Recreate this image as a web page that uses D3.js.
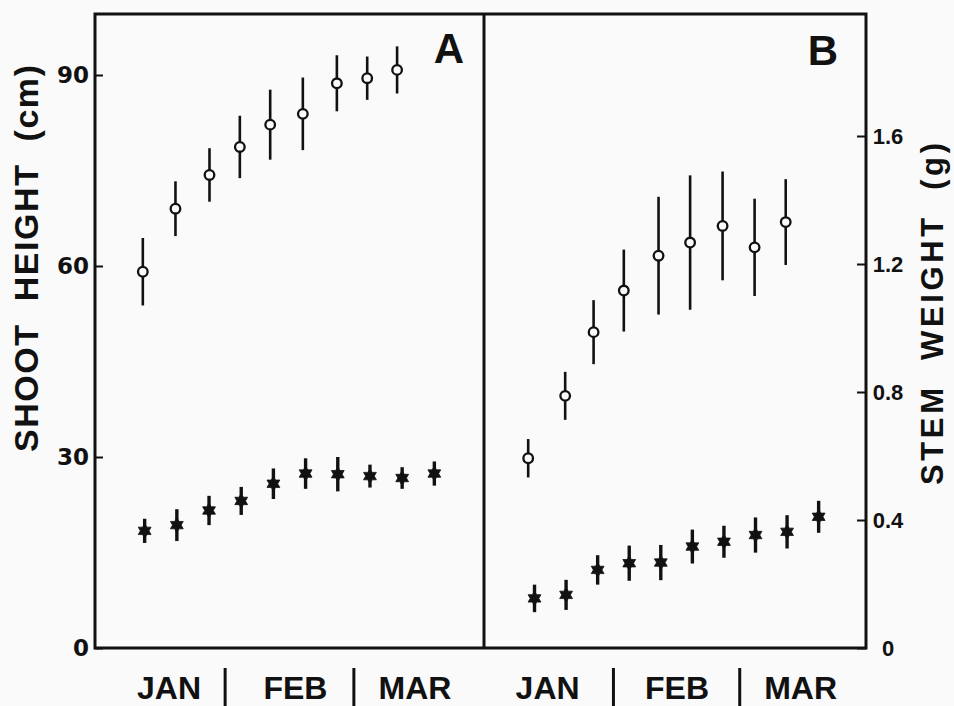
<!DOCTYPE html>
<html>
<head>
<meta charset="utf-8">
<script src="https://cdn.jsdelivr.net/npm/d3@7"></script>
<style>
  html, body { margin: 0; padding: 0; background: #fafafa; }
  svg { display: block; }
</style>
</head>
<body>
<svg id="chart" width="954" height="706"></svg>
<script>
// Sampling dates, as day of the year (1 = 1 January)
const starDays = [14, 21, 28, 35, 42, 49, 56, 63, 70, 77];
const openDaysA = [13.6, 20.7, 28.1, 34.7, 41.3, 48.4, 55.8, 62.4, 68.9];
const openDaysB = [12.6, 20.8, 27.1, 33.8, 41.5, 48.5, 55.7, 62.8, 69.7];

// Panel A: shoot height (cm), mean and error
const openHeight    = [59.1, 69.0, 74.3, 78.7, 82.2, 83.9, 88.7, 89.5, 90.8];
const openHeightErr = [5.3, 4.3, 4.2, 4.9, 5.5, 5.7, 4.4, 3.4, 3.7];
const starHeight    = [18.4, 19.3, 21.6, 23.1, 25.8, 27.4, 27.3, 27.0, 26.7, 27.4];
const starHeightErr = [1.9, 2.5, 2.3, 2.2, 2.4, 2.4, 2.7, 1.8, 1.7, 1.9];

// Panel B: stem weight (g), mean and error
const openWeight    = [0.593, 0.788, 0.987, 1.117, 1.226, 1.267, 1.319, 1.252, 1.331];
const openWeightErr = [0.060, 0.075, 0.100, 0.128, 0.184, 0.210, 0.170, 0.152, 0.134];
const starWeight    = [0.155, 0.166, 0.244, 0.265, 0.267, 0.317, 0.332, 0.353, 0.363, 0.410];
const starWeightErr = [0.043, 0.047, 0.046, 0.055, 0.055, 0.053, 0.050, 0.055, 0.052, 0.050];

// Month axis
const monthNames = ["JAN", "FEB", "MAR"];
const monthBreaks = [31.5, 59.5];
const monthLabelDaysA = [19.3, 46.8, 72.8];
const monthLabelDaysB = [16.9, 45.6, 73.0];

// Value axes
const heightTicks = [0, 30, 60, 90];
const weightTicks = [0, 0.4, 0.8, 1.2, 1.6];

const INK = "#111";
const PAPER = "#fafafa";
const SANS = "'Liberation Sans', Arial, sans-serif";
const frame = { left: 95, split: 484, right: 866, top: 14, bottom: 648 };

const svg = d3.select("#chart");

const xA = d3.scaleLinear().domain([3.2, 87.8]).range([frame.left, frame.split]);
const xB = d3.scaleLinear().domain([2.8, 87.5]).range([frame.split, frame.right]);
const yH = d3.scaleLinear().domain([0, 90]).range([frame.bottom, 75]);
const yW = d3.scaleLinear().domain([0, 1.6]).range([frame.bottom, 136]);

// Frame and panel divider
svg.append("rect")
  .attr("x", frame.left).attr("y", frame.top)
  .attr("width", frame.right - frame.left).attr("height", frame.bottom - frame.top)
  .attr("fill", "none").attr("stroke", INK).attr("stroke-width", 3);
svg.append("line")
  .attr("x1", frame.split).attr("x2", frame.split)
  .attr("y1", frame.top).attr("y2", frame.bottom)
  .attr("stroke", INK).attr("stroke-width", 3);

// Left axis: shoot height
const leftAxis = svg.append("g")
  .attr("transform", `translate(${frame.left},0)`)
  .call(d3.axisLeft(yH).tickValues(heightTicks).tickSizeInner(-8).tickSizeOuter(0).tickPadding(6));
leftAxis.select(".domain").remove();
leftAxis.selectAll(".tick line").attr("stroke", INK).attr("stroke-width", 2);
leftAxis.selectAll(".tick text")
  .attr("fill", INK)
  .style("font-family", "'DejaVu Sans', sans-serif")
  .style("font-weight", "bold")
  .style("font-size", "23px");

// Right axis: stem weight
const rightAxis = svg.append("g")
  .attr("transform", `translate(${frame.right},0)`)
  .call(d3.axisRight(yW).tickValues(weightTicks).tickSizeInner(-9).tickSizeOuter(0)
    .tickFormat(d => d === 0 ? "0" : d3.format(".1f")(d)));
rightAxis.select(".domain").remove();
rightAxis.selectAll(".tick line").attr("stroke", INK).attr("stroke-width", 2);
rightAxis.selectAll(".tick text")
  .attr("x", 22)
  .attr("text-anchor", "middle")
  .attr("fill", INK)
  .style("font-family", SANS)
  .style("font-weight", "bold")
  .style("font-size", "22px");

// Axis titles
svg.append("text")
  .attr("transform", "translate(38,258.5) rotate(-90)")
  .attr("text-anchor", "middle")
  .attr("textLength", 387).attr("lengthAdjust", "spacing")
  .style("white-space", "pre")
  .style("font-family", SANS)
  .style("font-weight", "bold").style("font-size", "34px")
  .attr("fill", INK)
  .text("SHOOT  HEIGHT  (cm)");

svg.append("text")
  .attr("transform", "translate(943,314) rotate(-90)")
  .attr("text-anchor", "middle")
  .attr("textLength", 342).attr("lengthAdjust", "spacing")
  .style("white-space", "pre")
  .style("font-family", SANS)
  .style("font-weight", "bold").style("font-size", "31px")
  .attr("fill", INK)
  .text("STEM  WEIGHT  (g)");

// Panel letters
svg.append("text").attr("x", 449).attr("y", 63).attr("text-anchor", "middle")
  .style("font-family", SANS)
  .style("font-weight", "bold").style("font-size", "42px").attr("fill", INK).text("A");
svg.append("text").attr("x", 823).attr("y", 65).attr("text-anchor", "middle")
  .style("font-family", SANS)
  .style("font-weight", "bold").style("font-size", "42px").attr("fill", INK).text("B");

// Month labels and month separators under each panel
function monthAxis(x, labelDays) {
  const g = svg.append("g");
  g.selectAll("line").data(monthBreaks).join("line")
    .attr("x1", d => x(d)).attr("x2", d => x(d))
    .attr("y1", 668).attr("y2", 710)
    .attr("stroke", INK).attr("stroke-width", 3);
  g.selectAll("text").data(monthNames).join("text")
    .attr("x", (d, i) => x(labelDays[i]))
    .attr("y", 699)
    .attr("text-anchor", "middle")
    .style("font-family", SANS)
    .style("font-weight", "bold").style("font-size", "32px")
    .attr("fill", INK)
    .text(d => d);
}
monthAxis(xA, monthLabelDaysA);
monthAxis(xB, monthLabelDaysB);

// Six-pointed star marker
function hexagram(R) {
  const r = R / Math.sqrt(3);
  const pts = d3.range(12).map(i => {
    const a = (-90 + i * 30) * Math.PI / 180;
    const rad = i % 2 === 0 ? R : r;
    return [rad * Math.cos(a), rad * Math.sin(a)];
  });
  return "M" + pts.map(p => p.map(v => v.toFixed(2)).join(",")).join("L") + "Z";
}
const starPath = hexagram(7.4);

function openSeries(x, y, days, mean, err) {
  const rows = days.map((d, i) => ({ d, m: mean[i], e: err[i] }));
  const g = svg.append("g");
  g.selectAll("line").data(rows).join("line")
    .attr("x1", r => x(r.d)).attr("x2", r => x(r.d))
    .attr("y1", r => y(r.m + r.e)).attr("y2", r => y(r.m - r.e))
    .attr("stroke", INK).attr("stroke-width", 2.6);
  g.selectAll("circle").data(rows).join("circle")
    .attr("cx", r => x(r.d)).attr("cy", r => y(r.m))
    .attr("r", 4.8)
    .attr("fill", PAPER).attr("stroke", INK).attr("stroke-width", 2.3);
}

function starSeries(x, y, days, mean, err) {
  const rows = days.map((d, i) => ({ d, m: mean[i], e: err[i] }));
  const g = svg.append("g");
  g.selectAll("line").data(rows).join("line")
    .attr("x1", r => x(r.d)).attr("x2", r => x(r.d))
    .attr("y1", r => y(r.m + r.e)).attr("y2", r => y(r.m - r.e))
    .attr("stroke", INK).attr("stroke-width", 3.4);
  g.selectAll("path").data(rows).join("path")
    .attr("d", starPath)
    .attr("transform", r => `translate(${x(r.d)},${y(r.m)})`)
    .attr("fill", INK)
    .attr("stroke", INK).attr("stroke-width", 0.8).attr("stroke-linejoin", "round");
}

openSeries(xA, yH, openDaysA, openHeight, openHeightErr);
starSeries(xA, yH, starDays, starHeight, starHeightErr);
openSeries(xB, yW, openDaysB, openWeight, openWeightErr);
starSeries(xB, yW, starDays, starWeight, starWeightErr);
</script>
</body>
</html>
